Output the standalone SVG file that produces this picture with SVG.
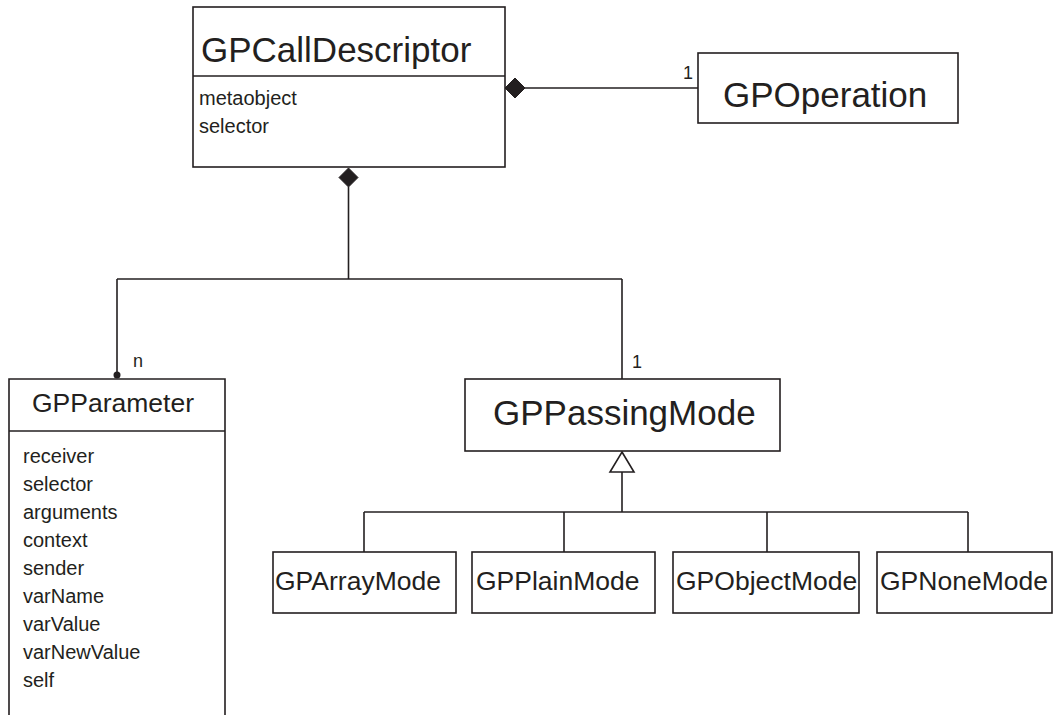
<svg xmlns="http://www.w3.org/2000/svg" width="1061" height="715" viewBox="0 0 1061 715">
  <style>
    .box { fill: #ffffff; stroke: #231f20; stroke-width: 1.6; }
    .line { fill: none; stroke: #231f20; stroke-width: 1.6; }
    .title { font-family: "Liberation Sans", Arial, sans-serif; font-size: 35px; fill: #231f20; }
    .sub { font-family: "Liberation Sans", Arial, sans-serif; font-size: 26.5px; fill: #231f20; }
    .attr { font-family: "Liberation Sans", Arial, sans-serif; font-size: 20px; fill: #231f20; }
    .mult { font-family: "Liberation Sans", Arial, sans-serif; font-size: 18px; fill: #231f20; }
    .diamond { fill: #231f20; stroke: #231f20; stroke-width: 1; }
    .tri { fill: #ffffff; stroke: #231f20; stroke-width: 1.6; }
  </style>
  <rect width="1061" height="715" fill="#ffffff"/>

  <!-- connectors -->
  <g id="connectors">
    <!-- GPCallDescriptor to GPOperation (composition) -->
    <line class="line" x1="525" y1="88" x2="698" y2="88"/>
    <polygon class="diamond" points="505,88 515,78 525,88 515,98"/>
    <text class="mult" x="683" y="79">1</text>

    <!-- GPCallDescriptor to parameters and passing mode (composition) -->
    <polygon class="diamond" points="348.5,168 358,177.5 348.5,187 339,177.5"/>
    <polyline class="line" points="348.5,187 348.5,279"/>
    <line class="line" x1="117" y1="279" x2="622" y2="279"/>
    <line class="line" x1="117" y1="279" x2="117" y2="375"/>
    <circle cx="117" cy="375" r="3.5" fill="#231f20"/>
    <text class="mult" x="133" y="367">n</text>
    <line class="line" x1="622" y1="279" x2="622" y2="379"/>
    <text class="mult" x="632" y="368">1</text>

    <!-- generalisation of GPPassingMode -->
    <polygon class="tri" points="622,452 634,472 610,472"/>
    <line class="line" x1="622" y1="472" x2="622" y2="512"/>
    <line class="line" x1="364" y1="512" x2="968" y2="512"/>
    <line class="line" x1="364" y1="512" x2="364" y2="552"/>
    <line class="line" x1="564" y1="512" x2="564" y2="552"/>
    <line class="line" x1="767" y1="512" x2="767" y2="552"/>
    <line class="line" x1="968" y1="512" x2="968" y2="552"/>
  </g>

  <!-- GPCallDescriptor -->
  <g id="GPCallDescriptor">
    <rect class="box" x="193" y="7" width="312" height="160"/>
    <line class="line" x1="193" y1="76" x2="505" y2="76"/>
    <text class="title" x="201" y="62">GPCallDescriptor</text>
    <text class="attr" x="199" y="105">metaobject</text>
    <text class="attr" x="199" y="133">selector</text>
  </g>

  <!-- GPOperation -->
  <g id="GPOperation">
    <rect class="box" x="698" y="53" width="260" height="70"/>
    <text class="title" x="723" y="107">GPOperation</text>
  </g>

  <!-- GPParameter (continues below the visible area) -->
  <g id="GPParameter">
    <path class="box" d="M9,720 V379 H225 V720"/>
    <line class="line" x1="9" y1="431" x2="225" y2="431"/>
    <text class="sub" x="32" y="412">GPParameter</text>
    <text class="attr" x="23" y="463">receiver</text>
    <text class="attr" x="23" y="491">selector</text>
    <text class="attr" x="23" y="519">arguments</text>
    <text class="attr" x="23" y="547">context</text>
    <text class="attr" x="23" y="575">sender</text>
    <text class="attr" x="23" y="603">varName</text>
    <text class="attr" x="23" y="631">varValue</text>
    <text class="attr" x="23" y="659">varNewValue</text>
    <text class="attr" x="23" y="687">self</text>
  </g>

  <!-- GPPassingMode -->
  <g id="GPPassingMode">
    <rect class="box" x="465" y="379" width="315" height="72"/>
    <text class="title" x="493" y="425">GPPassingMode</text>
  </g>

  <!-- subclasses -->
  <g id="GPArrayMode">
    <rect class="box" x="273" y="552" width="183" height="61"/>
    <text class="sub" x="275" y="590">GPArrayMode</text>
  </g>
  <g id="GPPlainMode">
    <rect class="box" x="472" y="552" width="183" height="61"/>
    <text class="sub" x="476" y="590">GPPlainMode</text>
  </g>
  <g id="GPObjectMode">
    <rect class="box" x="673" y="552" width="186" height="61"/>
    <text class="sub" x="676" y="590">GPObjectMode</text>
  </g>
  <g id="GPNoneMode">
    <rect class="box" x="877" y="552" width="175" height="61"/>
    <text class="sub" x="880" y="590">GPNoneMode</text>
  </g>
</svg>
